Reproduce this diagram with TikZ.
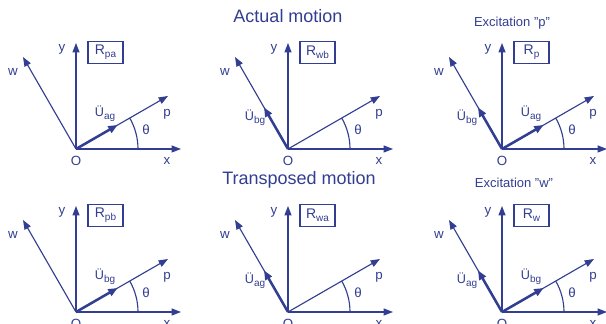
\documentclass[tikz,border=0pt]{standalone}
\usepackage{fontspec}
\setmainfont{Liberation Sans}
\usetikzlibrary{arrows.meta,calc}
\definecolor{dblue}{RGB}{50,62,145}
\newcommand{\lsub}[1]{\raisebox{-0.45ex}{\fontsize{7.5}{8}\selectfont #1}}
\newcommand{\mypanel}[4]{%
  \coordinate (#1O) at (#2,#3);
  \coordinate (#1X) at ($(#1O)+(105,0)$);
  \coordinate (#1Y) at ($(#1O)+(0,106)$);
  \coordinate (#1P) at ($(#1O)+(92,53)$);
  \coordinate (#1W) at ($(#1O)+(-53,92)$);
  \coordinate (#1UP) at ($(#1O)+(41.6,24)$);
  \coordinate (#1UW) at ($(#1O)+(-24,41.6)$);
  \draw[axisline] (#1O) -- (#1X);
  \draw[axisline] (#1O) -- (#1Y);
  \draw[axisline] (#1O) -- (#1P);
  \draw[axisline] (#1O) -- (#1W);
  \draw[arcline] ($(#1O)+(62,0)$) arc[start angle=0,end angle=30,radius=46.5pt];
  \node[lbl] (#1ly) at ($(#1O)+(-14,100)$) {y};
  \node[lbl] (#1lx) at ($(#1O)+(91,-12)$) {x};
  \node[lbl] (#1lo) at ($(#1O)+(0,-12)$) {O};
  \node[lbl] (#1lw) at ($(#1O)+(-63,77)$) {w};
  \node[lbl] (#1lp) at ($(#1O)+(91,35)$) {p};
  \node[lbl] (#1lt) at ($(#1O)+(70,19)$) {θ};
  \node[rbox] (#1box) at ($(#1O)+(29.5,96.5)$) {R\lsub{#4}};
}
\begin{document}
\begin{tikzpicture}[x=0.75pt,y=0.75pt,
  axisline/.style={draw=dblue,line width=0.85pt,-{Triangle[length=7pt,width=5.2pt]}},
  arcline/.style={draw=dblue,line width=0.85pt},
  uline/.style={draw=dblue,line width=1.9pt,-{Triangle[length=7pt,width=5.5pt]}},
  lbl/.style={text=dblue,font=\fontsize{10}{11}\selectfont,inner sep=0pt},
  ulbl/.style={text=dblue,font=\fontsize{9.5}{11}\selectfont,inner sep=0pt},
  rbox/.style={draw=dblue,line width=0.9pt,text=dblue,font=\fontsize{10.5}{12}\selectfont,minimum width=26.25pt,minimum height=16.5pt,inner sep=0pt},
  ttl/.style={text=dblue,inner sep=0pt,anchor=base}]
\useasboundingbox (0,0) rectangle (606,324);
\clip (0,0) rectangle (606,324);
\node[ttl,font=\fontsize{13.5}{15}\selectfont] (t1) at (288,301) {Actual motion};
\node[ttl,font=\fontsize{9.75}{11}\selectfont] (t2) at (512,297) {Excitation "p"};
\node[ttl,font=\fontsize{13.5}{15}\selectfont] (t3) at (299,139) {Transposed motion};
\node[ttl,font=\fontsize{9.75}{11}\selectfont] (t4) at (514,136) {Excitation "w"};
\mypanel{A}{76}{175}{pa}
\mypanel{B}{288}{175}{wb}
\mypanel{C}{502}{175}{p}
\mypanel{D}{76}{12}{pb}
\mypanel{E}{288}{12}{wa}
\mypanel{F}{502}{12}{w}
% accelerations
\draw[uline] (AO) -- (AUP);
\node[ulbl] (Aup) at ($(AO)+(29,35)$) {Ü\lsub{ag}};
\draw[uline] (BO) -- (BUW);
\node[ulbl] (Buw) at ($(BO)+(-33,31)$) {Ü\lsub{bg}};
\draw[uline] (CO) -- (CUP);
\node[ulbl] (Cup) at ($(CO)+(29,35)$) {Ü\lsub{ag}};
\draw[uline] (CO) -- (CUW);
\node[ulbl] (Cuw) at ($(CO)+(-35,31)$) {Ü\lsub{bg}};
\draw[uline] (DO) -- (DUP);
\node[ulbl] (Dup) at ($(DO)+(29,35)$) {Ü\lsub{bg}};
\draw[uline] (EO) -- (EUW);
\node[ulbl] (Euw) at ($(EO)+(-33,31)$) {Ü\lsub{ag}};
\draw[uline] (FO) -- (FUP);
\node[ulbl] (Fup) at ($(FO)+(29,35)$) {Ü\lsub{bg}};
\draw[uline] (FO) -- (FUW);
\node[ulbl] (Fuw) at ($(FO)+(-35,31)$) {Ü\lsub{ag}};
\end{tikzpicture}
\end{document}
